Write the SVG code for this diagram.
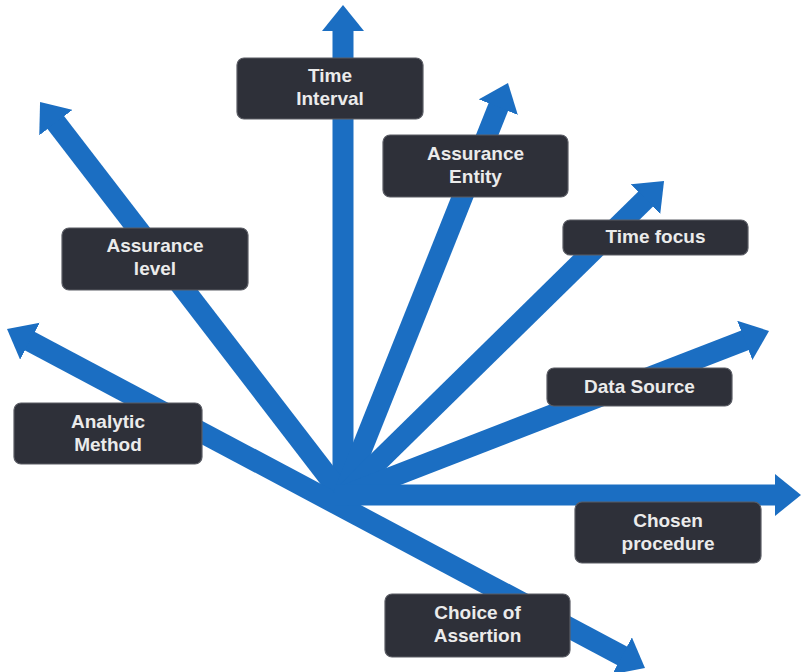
<svg xmlns="http://www.w3.org/2000/svg" width="802" height="672" viewBox="0 0 802 672">
<style>
.bg{fill:#ffffff}
.arr{stroke:#1b6ec2;stroke-width:21;fill:none;stroke-linecap:butt}
.box{fill:#2e3039;stroke:#5a5c64;stroke-width:1.2}
.lbl{font-family:"Liberation Sans",Arial,sans-serif;font-size:19px;font-weight:bold;fill:#ebebeb;text-anchor:middle}
</style>
<defs>
<marker id="head" markerUnits="userSpaceOnUse" markerWidth="26" markerHeight="42" refX="1" refY="21" orient="auto-start-reverse" viewBox="0 0 26 42">
<path d="M0,0 L26,21 L0,42 z" fill="#1b6ec2"/>
</marker>
</defs>
<rect class="bg" x="0" y="0" width="802" height="672"/>
<g id="connectors">
<line class="arr" x1="343" y1="498" x2="343" y2="30" marker-end="url(#head)"/>
<line class="arr" x1="343" y1="496" x2="55.3" y2="121.8" marker-end="url(#head)"/>
<line class="arr" x1="29.1" y1="340.7" x2="622.9" y2="656.3" marker-start="url(#head)" marker-end="url(#head)"/>
<line class="arr" x1="343" y1="496" x2="498.7" y2="106.2" marker-end="url(#head)"/>
<line class="arr" x1="343" y1="496" x2="646.2" y2="198.5" marker-end="url(#head)"/>
<line class="arr" x1="343" y1="496" x2="745.7" y2="340" marker-end="url(#head)"/>
<line class="arr" x1="335" y1="495" x2="776" y2="495" marker-end="url(#head)"/>
</g>
<g id="time-interval">
<rect class="box" x="237" y="58" width="186" height="61" rx="7"/>
<text class="lbl" x="330" y="82">Time</text>
<text class="lbl" x="330" y="105">Interval</text>
</g>
<g id="assurance-entity">
<rect class="box" x="383" y="135" width="185" height="62" rx="7"/>
<text class="lbl" x="475.5" y="160">Assurance</text>
<text class="lbl" x="475.5" y="183">Entity</text>
</g>
<g id="time-focus">
<rect class="box" x="563" y="220" width="185" height="35" rx="7"/>
<text class="lbl" x="655.5" y="243">Time focus</text>
</g>
<g id="data-source">
<rect class="box" x="547" y="368" width="185" height="38" rx="7"/>
<text class="lbl" x="639.5" y="393">Data Source</text>
</g>
<g id="assurance-level">
<rect class="box" x="62" y="228" width="186" height="62" rx="7"/>
<text class="lbl" x="155" y="252">Assurance</text>
<text class="lbl" x="155" y="275">level</text>
</g>
<g id="analytic-method">
<rect class="box" x="14" y="403" width="188" height="61" rx="7"/>
<text class="lbl" x="108" y="428">Analytic</text>
<text class="lbl" x="108" y="451">Method</text>
</g>
<g id="chosen-procedure">
<rect class="box" x="575" y="502" width="186" height="61" rx="7"/>
<text class="lbl" x="668" y="527">Chosen</text>
<text class="lbl" x="668" y="550">procedure</text>
</g>
<g id="choice-of-assertion">
<rect class="box" x="385" y="594" width="185" height="63" rx="7"/>
<text class="lbl" x="477.5" y="619">Choice of</text>
<text class="lbl" x="477.5" y="642">Assertion</text>
</g>
</svg>
